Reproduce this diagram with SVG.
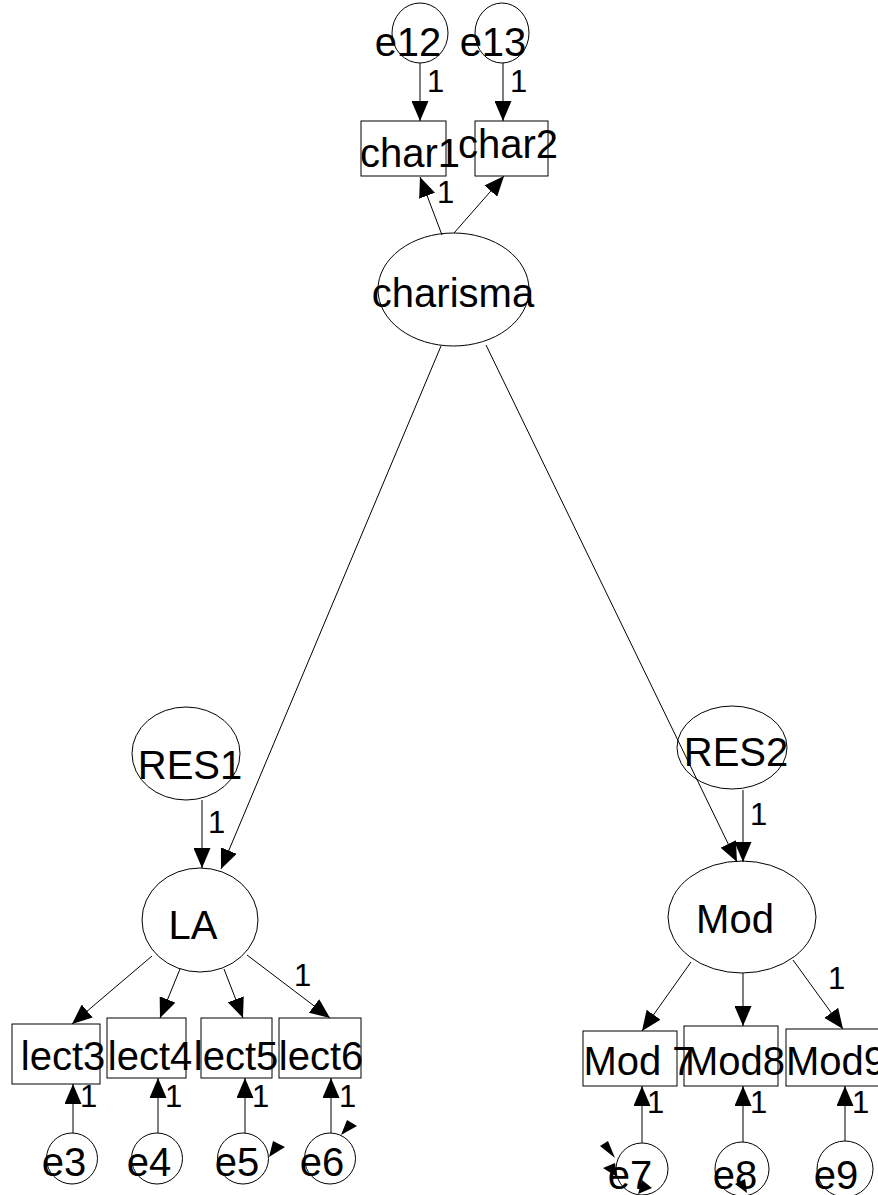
<svg xmlns="http://www.w3.org/2000/svg" width="878" height="1195" viewBox="0 0 878 1195">
<style>
.n{fill:none;stroke:#000;stroke-width:1}
.t{font-family:"Liberation Sans",Arial,sans-serif;font-size:40px;fill:#000;text-anchor:middle}
.l{font-family:"Liberation Sans",Arial,sans-serif;font-size:31px;fill:#000}
.c{stroke:#000;stroke-width:1;fill:none;marker-end:url(#ah)}
.h{fill:#000;stroke:none}
</style>
<defs>
<marker id="ah" markerUnits="userSpaceOnUse" markerWidth="20" markerHeight="17" viewBox="0 0 20 17" refX="20" refY="8.5" orient="auto">
<path d="M0,0 L20,8.5 L0,17 z" fill="#000"/>
</marker>
</defs>
<rect width="878" height="1195" fill="#fff"/>
<g id="connectors">
<line class="c" x1="420" y1="63" x2="420" y2="121"/>
<line class="c" x1="503" y1="63" x2="503" y2="121"/>
<line class="c" x1="442" y1="235" x2="420" y2="177"/>
<line class="c" x1="454" y1="233" x2="504" y2="176"/>
<line class="c" x1="441" y1="346" x2="221" y2="869"/>
<line class="c" x1="486" y1="345" x2="737" y2="862"/>
<line class="c" x1="202" y1="800" x2="202" y2="868"/>
<line class="c" x1="743" y1="790" x2="743" y2="862"/>
<line class="c" x1="152" y1="956" x2="72" y2="1024"/>
<line class="c" x1="180" y1="969" x2="160" y2="1018"/>
<line class="c" x1="224" y1="969" x2="243" y2="1018"/>
<line class="c" x1="247" y1="955" x2="330" y2="1018"/>
<line class="c" x1="73" y1="1133" x2="73" y2="1084"/>
<line class="c" x1="158" y1="1133" x2="158" y2="1078"/>
<line class="c" x1="245" y1="1133" x2="245" y2="1078"/>
<line class="c" x1="331" y1="1133" x2="331" y2="1078"/>
<line class="c" x1="691" y1="962" x2="642" y2="1031"/>
<line class="c" x1="743" y1="973" x2="743" y2="1026"/>
<line class="c" x1="793" y1="960" x2="843" y2="1029"/>
<line class="c" x1="642" y1="1143" x2="642" y2="1086"/>
<line class="c" x1="743" y1="1142" x2="743" y2="1086"/>
<line class="c" x1="845" y1="1141" x2="845" y2="1086"/>
<polygon class="h" points="273,1141 285,1147 269,1157"/>
<polygon class="h" points="347,1120 357,1126 341,1135"/>
<polygon class="h" points="600,1146 608,1141 615,1158"/>
<polygon class="h" points="603,1168 615,1163 617,1177"/>
<polygon class="h" points="638,1194 642,1180 652,1188"/>
<polygon class="h" points="735,1184 745,1179 747,1193"/>
</g>
<g id="e12"><ellipse class="n" cx="420" cy="33" rx="28" ry="30"/><text class="t" x="408" y="56">e12</text></g>
<g id="e13"><ellipse class="n" cx="502" cy="33" rx="27" ry="30"/><text class="t" x="493" y="56">e13</text></g>
<g id="char1"><rect class="n" x="361" y="121" width="85" height="55"/><text class="t" x="410" y="167">char1</text></g>
<g id="char2"><rect class="n" x="475" y="121" width="73" height="55"/><text class="t" x="508" y="158">char2</text></g>
<g id="charisma"><ellipse class="n" cx="453.5" cy="289.5" rx="75.5" ry="56.5"/><text class="t" x="453" y="307">charisma</text></g>
<g id="RES1"><ellipse class="n" cx="186" cy="753.5" rx="54" ry="46.5"/><text class="t" x="190" y="779">RES1</text></g>
<g id="LA"><ellipse class="n" cx="200" cy="920" rx="58" ry="52"/><text class="t" x="193" y="939">LA</text></g>
<g id="RES2"><ellipse class="n" cx="732" cy="747.5" rx="55" ry="41.5"/><text class="t" x="736" y="766">RES2</text></g>
<g id="Mod"><ellipse class="n" cx="742" cy="917" rx="74" ry="56"/><text class="t" x="735" y="933">Mod</text></g>
<g id="lect3"><rect class="n" x="12" y="1024" width="88" height="60"/><text class="t" x="63" y="1070">lect3</text></g>
<g id="lect4"><rect class="n" x="107" y="1018" width="79" height="60"/><text class="t" x="150" y="1070">lect4</text></g>
<g id="lect5"><rect class="n" x="201" y="1018" width="71" height="60"/><text class="t" x="236" y="1070">lect5</text></g>
<g id="lect6"><rect class="n" x="279" y="1018" width="82" height="60"/><text class="t" x="321" y="1070">lect6</text></g>
<g id="e3"><circle class="n" cx="72" cy="1158.5" r="25.5"/><text class="t" x="64" y="1176">e3</text></g>
<g id="e4"><circle class="n" cx="157" cy="1158.5" r="25.5"/><text class="t" x="149" y="1176">e4</text></g>
<g id="e5"><circle class="n" cx="243" cy="1158.5" r="25.5"/><text class="t" x="237" y="1176">e5</text></g>
<g id="e6"><circle class="n" cx="330" cy="1158.5" r="25.5"/><text class="t" x="322" y="1176">e6</text></g>
<g id="Mod7"><rect class="n" x="583" y="1031" width="94" height="55"/><text class="t" x="639" y="1075">Mod 7</text></g>
<g id="Mod8"><rect class="n" x="684" y="1026" width="94" height="60"/><text class="t" x="735" y="1075">Mod8</text></g>
<g id="Mod9"><rect class="n" x="786" y="1029" width="100" height="57"/><text class="t" x="836" y="1075">Mod9</text></g>
<g id="e7"><circle class="n" cx="642" cy="1169" r="26"/><text class="t" x="630" y="1189">e7</text></g>
<g id="e8"><circle class="n" cx="742" cy="1169" r="27"/><text class="t" x="735" y="1189">e8</text></g>
<g id="e9"><circle class="n" cx="845" cy="1169" r="28"/><text class="t" x="836" y="1189">e9</text></g>
<g id="labels">
<text class="l" x="427" y="92">1</text>
<text class="l" x="510" y="92">1</text>
<text class="l" x="437" y="203">1</text>
<text class="l" x="208" y="833">1</text>
<text class="l" x="750" y="825">1</text>
<text class="l" x="294" y="986">1</text>
<text class="l" x="828" y="989">1</text>
<text class="l" x="80" y="1107">1</text>
<text class="l" x="165" y="1107">1</text>
<text class="l" x="252" y="1107">1</text>
<text class="l" x="339" y="1107">1</text>
<text class="l" x="647" y="1113">1</text>
<text class="l" x="750" y="1113">1</text>
<text class="l" x="852" y="1113">1</text>
</g>
</svg>
